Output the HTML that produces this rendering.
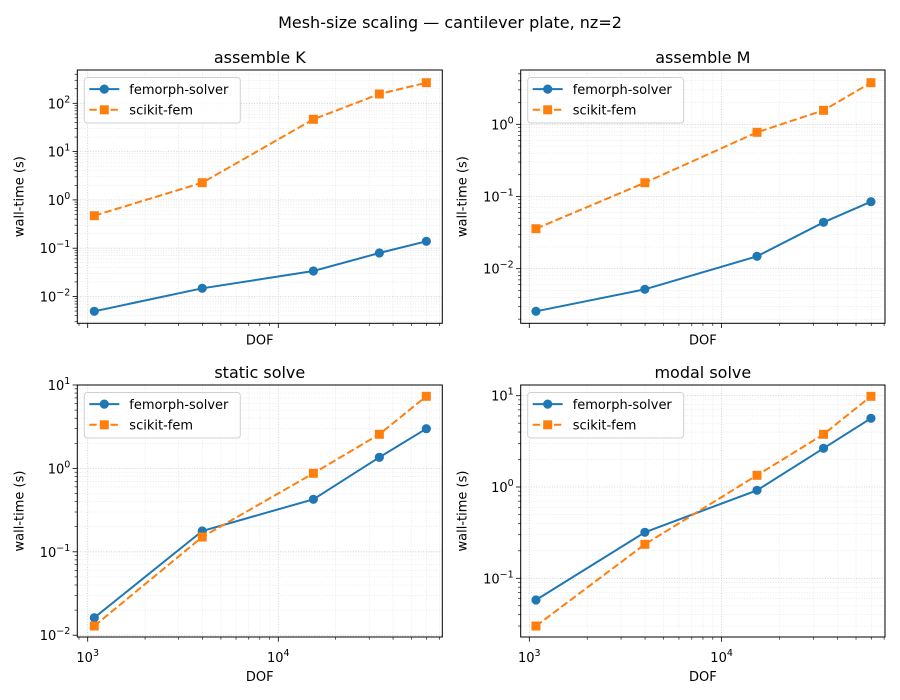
<!DOCTYPE html>
<html><head><meta charset="utf-8"><style>
html,body{margin:0;padding:0;background:#fff}
svg{display:block;font-family:"DejaVu Sans","Liberation Sans",sans-serif}
</style></head><body>
<svg id="s" width="900" height="700" viewBox="0 0 900 700" xmlns="http://www.w3.org/2000/svg"></svg>
<script>
const S=document.getElementById('s');let h='';
h+='<rect width="900" height="700" fill="#fff"/>';
h+='<text x="450" y="28" font-size="16" text-anchor="middle">Mesh-size scaling — cantilever plate, nz=2</text>';
const xs=[1083,3990,15280,33900,59800];
const P=[
 {L:77.3,R:442.3,T:70,B:323.3,x3:87.7,xd:190.6,ry:103.3,re:2,yd:48.3,title:'assemble K',bot:false,
  o:[215.7,182.7,119.3,94,82.7],b:[311.3,288.3,271,253,241.3]},
 {L:520.7,R:885,T:70,B:323.3,x3:529.3,xd:192.3,ry:124.3,re:0,yd:72.2,title:'assemble M',bot:false,
  o:[228.7,182.7,132.3,110.3,82.7],b:[311.3,289.3,256.3,222.3,201.7]},
 {L:77.3,R:442.3,T:385,B:637,x3:87.7,xd:190.6,ry:385,re:1,yd:83.4,title:'static solve',bot:true,
  o:[626,537,473.3,434.3,396.3],b:[617.7,531,499.3,457.3,428.7]},
 {L:520.7,R:885,T:385,B:637,x3:529.3,xd:192.3,ry:395.7,re:1,yd:91.3,title:'modal solve',bot:true,
  o:[626,544.3,475.3,434.3,396.3],b:[600,532.3,490.3,448.3,418.3]}
];
const sup=e=>(e<0?'−':'')+Math.abs(e);
const R=4.6,Q=9;
P.forEach(p=>{
 const X=v=>p.x3+(Math.log10(v)-3)*p.xd;
 let g='';
 for(let d=2;d<=4;d++)for(let m=1;m<=9;m++){const v=m*Math.pow(10,d);const x=X(v);if(x<p.L||x>p.R)continue;
  const maj=m==1;
  g+=`<line x1="${x}" y1="${p.T}" x2="${x}" y2="${p.B}" stroke="${maj?'#c8c8c8':'#e0e0e0'}" stroke-width="${maj?0.8:0.6}" stroke-dasharray="1,1.6"/>`;
  g+=`<line x1="${x}" y1="${p.B}" x2="${x}" y2="${p.B+(maj?4.7:2.7)}" stroke="#000" stroke-width="${maj?0.8:0.6}"/>`;
  if(maj&&p.bot)g+=`<text x="${x}" y="${p.B+25}" font-size="13" text-anchor="middle">10<tspan font-size="9.5" dy="-6">${d}</tspan></text>`;
 }
 for(let e=-4;e<=3;e++)for(let m=1;m<=9;m++){const y=p.ry-(Math.log10(m)+e-p.re)*p.yd;if(y<p.T||y>p.B)continue;
  const maj=m==1;
  g+=`<line x1="${p.L}" y1="${y}" x2="${p.R}" y2="${y}" stroke="${maj?'#c8c8c8':'#e0e0e0'}" stroke-width="${maj?0.8:0.6}" stroke-dasharray="1,1.6"/>`;
  g+=`<line x1="${p.L}" y1="${y}" x2="${p.L-(maj?4.7:2.7)}" y2="${y}" stroke="#000" stroke-width="${maj?0.8:0.6}"/>`;
  if(maj)g+=`<text x="${p.L-7}" y="${y+5}" font-size="13" text-anchor="end">10<tspan font-size="9.5" dy="-6">${sup(e)}</tspan></text>`;
 }
 const cx=xs.map(X);
 const pts=a=>a.map((y,i)=>cx[i]+','+y).join(' ');
 g+=`<polyline points="${pts(p.b)}" fill="none" stroke="#1f77b4" stroke-width="2"/>`;
 p.b.forEach((y,i)=>g+=`<circle cx="${cx[i]}" cy="${y}" r="${R}" fill="#1f77b4"/>`);
 g+=`<polyline points="${pts(p.o)}" fill="none" stroke="#ff7f0e" stroke-width="2" stroke-dasharray="7.4,3.2"/>`;
 p.o.forEach((y,i)=>g+=`<rect x="${cx[i]-Q/2}" y="${y-Q/2}" width="${Q}" height="${Q}" fill="#ff7f0e"/>`);
 g+=`<rect x="${p.L}" y="${p.T}" width="${p.R-p.L}" height="${p.B-p.T}" fill="none" stroke="#000" stroke-width="1"/>`;
 const mx=(p.L+p.R)/2;
 g+=`<text x="${mx}" y="${p.T-7}" font-size="16" text-anchor="middle">${p.title}</text>`;
 g+=`<text x="${mx}" y="${p.bot?p.B+44:p.B+21}" font-size="13" text-anchor="middle">DOF</text>`;
 const yl=p.L-54,ym=(p.T+p.B)/2;
 g+=`<text x="${yl}" y="${ym}" font-size="13" text-anchor="middle" transform="rotate(-90 ${yl} ${ym})">wall-time (s)</text>`;
 const lx=p.L+7,ly=p.T+7.5;
 g+=`<rect x="${lx}" y="${ly}" width="156" height="45.5" rx="3" fill="#fff" fill-opacity="0.8" stroke="#d0d0d0"/>`;
 const r1=ly+11.6,r2=ly+32.3;
 g+=`<line x1="${lx+5}" y1="${r1}" x2="${lx+35}" y2="${r1}" stroke="#1f77b4" stroke-width="2"/><circle cx="${lx+20}" cy="${r1}" r="${R}" fill="#1f77b4"/>`;
 g+=`<text x="${lx+45}" y="${r1+4.7}" font-size="13">femorph-solver</text>`;
 g+=`<line x1="${lx+5}" y1="${r2}" x2="${lx+35}" y2="${r2}" stroke="#ff7f0e" stroke-width="2" stroke-dasharray="7.4,3.2"/><rect x="${lx+20-Q/2}" y="${r2-Q/2}" width="${Q}" height="${Q}" fill="#ff7f0e"/>`;
 g+=`<text x="${lx+45}" y="${r2+4.7}" font-size="13">scikit-fem</text>`;
 h+=g;
});
S.innerHTML=h;
</script>
</body></html>
